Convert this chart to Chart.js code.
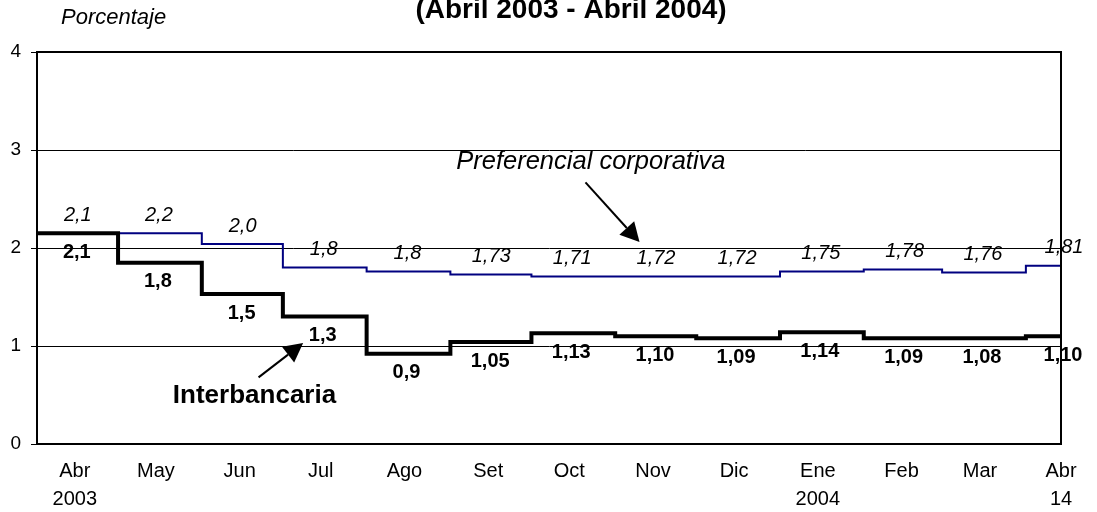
<!DOCTYPE html>
<html><head><meta charset="utf-8">
<script src="https://cdn.jsdelivr.net/npm/chart.js@4.4.1/dist/chart.umd.min.js"></script>
<style>html,body{margin:0;padding:0;background:#fff;}#wrap{width:1097px;height:512px;position:relative;}</style>
</head><body><div id="wrap"><canvas id="c" width="1097" height="512"></canvas></div>
<script>
// ---- data ----
const monthStarts = ['2003-04-01','2003-05-01','2003-06-01','2003-07-01','2003-08-01','2003-09-01','2003-10-01','2003-11-01','2003-12-01','2004-01-01','2004-02-01','2004-03-01','2004-04-01'];
const lastDate = '2004-04-14';
const tickDates = ['2003-04-15','2003-05-15','2003-06-15','2003-07-15','2003-08-15','2003-09-15','2003-10-15','2003-11-15','2003-12-15','2004-01-15','2004-02-15','2004-03-15','2004-04-14'];
const tickLabels = [['Abr','2003'],'May','Jun','Jul','Ago','Set','Oct','Nov','Dic',['Ene','2004'],'Feb','Mar',['Abr','14']];
const yTicks = [0,1,2,3,4];
const interbancaria = [2.15,1.85,1.53,1.30,0.92,1.04,1.13,1.10,1.08,1.14,1.08,1.08,1.10];
const preferencial  = [2.15,2.15,2.04,1.80,1.76,1.73,1.71,1.71,1.71,1.76,1.78,1.75,1.82];
const interbancariaLabels = ['2,1','1,8','1,5','1,3','0,9','1,05','1,13','1,10','1,09','1,14','1,09','1,08','1,10'];
const preferencialLabels  = ['2,1','2,2','2,0','1,8','1,8','1,73','1,71','1,72','1,72','1,75','1,78','1,76','1,81'];
const titleText = '(Abril 2003 - Abril 2004)';
const unitText = 'Porcentaje';

// ---- helpers ----
const ORIGIN = Date.parse('2003-04-01T00:00:00Z');
const day = d => Math.round((Date.parse(d + 'T00:00:00Z') - ORIGIN) / 86400000);
const startDays = monthStarts.map(day);
const endDay = day(lastDate);
const tickDays = tickDates.map(day);
const series = vals => vals.map((v, i) => ({x: startDays[i], y: v})).concat([{x: endDay, y: vals[vals.length - 1]}]);
const FONT = '"Liberation Sans", Arial, Helvetica, sans-serif';

// annotation anchors in data units (day, value)
const notes = [
  {text: 'Preferencial corporativa', font: 'italic 25.5px ' + FONT, at: [205, 2.88], from: [203, 2.67], to: [223, 2.06]},
  {text: 'Interbancaria', font: 'bold 26px ' + FONT, at: [80.5, 0.49], from: [82, 0.68], to: [98.5, 1.03]}
];

function arrow(ctx, x1, y1, x2, y2) {
  const ang = Math.atan2(y2 - y1, x2 - x1), L = 19, W = 10;
  const bx = x2 - L * Math.cos(ang), by = y2 - L * Math.sin(ang);
  ctx.beginPath(); ctx.moveTo(x1, y1); ctx.lineTo(bx, by); ctx.lineWidth = 2; ctx.stroke();
  ctx.beginPath(); ctx.moveTo(x2, y2);
  ctx.lineTo(bx + W * Math.sin(ang), by - W * Math.cos(ang));
  ctx.lineTo(bx - W * Math.sin(ang), by + W * Math.cos(ang));
  ctx.closePath(); ctx.fill();
}

const decor = {
  id: 'decor',
  afterDatasetsDraw(chart) {
    const {ctx, chartArea: a, scales: {x, y}} = chart;
    ctx.save();
    ctx.strokeStyle = '#000'; ctx.fillStyle = '#000';
    ctx.lineWidth = 2;
    ctx.beginPath(); ctx.moveTo(a.left, a.top); ctx.lineTo(a.right, a.top); ctx.lineTo(a.right, a.bottom); ctx.stroke();
    ctx.textAlign = 'center'; ctx.textBaseline = 'middle';
    ctx.font = 'italic 20px ' + FONT;
    preferencial.forEach((v, i) => ctx.fillText(preferencialLabels[i], x.getPixelForValue(tickDays[i]) + 3, y.getPixelForValue(v) - 18));
    ctx.font = 'bold 20px ' + FONT;
    interbancaria.forEach((v, i) => ctx.fillText(interbancariaLabels[i], x.getPixelForValue(tickDays[i]) + 2, y.getPixelForValue(v) + 19));
    notes.forEach(n => {
      ctx.font = n.font;
      ctx.fillText(n.text, x.getPixelForValue(n.at[0]), y.getPixelForValue(n.at[1]));
      arrow(ctx, x.getPixelForValue(n.from[0]), y.getPixelForValue(n.from[1]), x.getPixelForValue(n.to[0]), y.getPixelForValue(n.to[1]));
    });
    ctx.textAlign = 'center'; ctx.textBaseline = 'alphabetic';
    ctx.font = 'bold 28px ' + FONT;
    ctx.fillText(titleText, 571, 18);
    ctx.textAlign = 'left';
    ctx.font = 'italic 22px ' + FONT;
    ctx.fillText(unitText, 61, 24);
    ctx.restore();
  }
};

Chart.defaults.font.family = FONT;
Chart.defaults.color = '#000';

new Chart(document.getElementById('c'), {
  type: 'line',
  data: {
    datasets: [
      {label: 'Interbancaria', data: series(interbancaria), borderColor: '#000', borderWidth: 4, stepped: true, pointRadius: 0, fill: false},
      {label: 'Preferencial corporativa', data: series(preferencial), borderColor: '#000080', borderWidth: 2, stepped: true, pointRadius: 0, fill: false}
    ]
  },
  options: {
    responsive: false, animation: false, devicePixelRatio: 1,
    layout: {padding: {left: 0, top: 52, right: 36, bottom: 0}},
    plugins: {legend: {display: false}, tooltip: {enabled: false}},
    scales: {
      x: {
        type: 'linear', min: 0, max: endDay,
        afterBuildTicks: s => { s.ticks = tickDays.map(v => ({value: v})); },
        afterFit: s => { s.height = 68; },
        grid: {display: false, drawTicks: false, tickLength: 0},
        border: {display: true, color: '#000', width: 2},
        ticks: {autoSkip: false, maxRotation: 0, padding: 13, font: {size: 20, lineHeight: 1.425}, color: '#000',
                callback: (v, i) => tickLabels[i]}
      },
      y: {
        min: 0, max: 4,
        afterBuildTicks: s => { s.ticks = yTicks.map(v => ({value: v})); },
        afterFit: s => { s.width = 37; },
        grid: {color: c => (c.tick && (c.tick.value === 0 || c.tick.value === 4)) ? 'rgba(0,0,0,0)' : '#000', lineWidth: 1, tickColor: '#000', tickLength: 6},
        border: {display: true, color: '#000', width: 2},
        ticks: {padding: 10, font: {size: 19}, color: '#000', callback: v => String(v)}
      }
    }
  },
  plugins: [decor]
});
</script></body></html>
